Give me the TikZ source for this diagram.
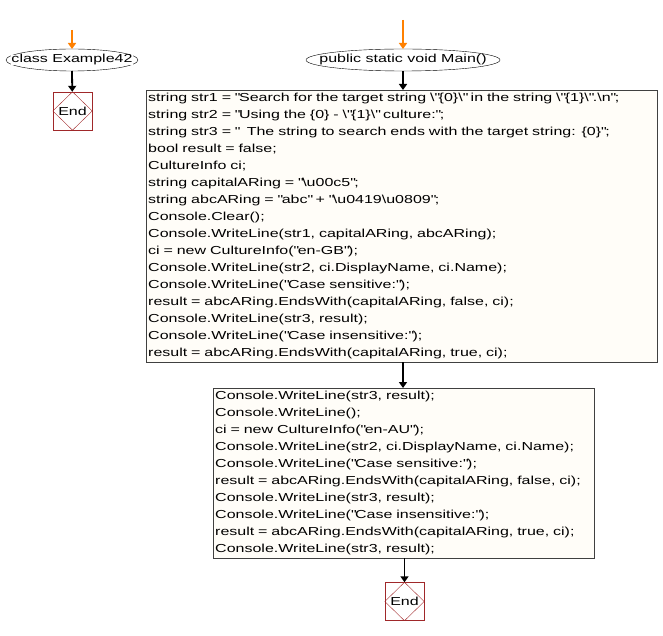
\documentclass[tikz,border=0pt]{standalone}
\usepackage{fontspec}
\setmainfont{Liberation Sans}[FakeStretch=1.38]
\usetikzlibrary{arrows.meta,shapes.geometric}
\definecolor{boxfill}{HTML}{FFFDF8}
\definecolor{endred}{HTML}{A0282A}
\newcommand{\qq}{\textquotedbl{}}
\newcommand{\bs}{\textbackslash{}}
\tikzset{x=1pt,y=-1pt,
 ell/.style={inner sep=0pt,font=\fontsize{11.6}{14}\selectfont,
   append after command={\pgfextra{\draw (\tikzlastnode.center) ellipse (#1 and 11);}}},
 code/.style={draw=black!75,fill=boxfill,anchor=north west,inner xsep=2pt,inner ysep=3pt,align=left,font=\fontsize{11.6}{17}\selectfont,text width=#1},
 endn/.style={draw=endred,minimum width=39pt,minimum height=38pt,inner sep=0pt,font=\fontsize{11.6}{14}\selectfont,
   append after command={\pgfextra{\draw[endred,thin] (\tikzlastnode.north) -- (\tikzlastnode.east) -- (\tikzlastnode.south) -- (\tikzlastnode.west) -- cycle;}}},
 oarr/.style={draw=orange,line width=1.6pt,-{Triangle[length=6pt,width=8pt]}},
 barr/.style={draw=black,line width=1.8pt,-{Triangle[length=6pt,width=8pt]}}}
\begin{document}
\begin{tikzpicture}
\useasboundingbox (0,0) rectangle (663,636);
\coordinate (s1) at (72,30);
\coordinate (s2) at (403,20);
\node[ell=66,fill=white] (c) at (72,60) {class Example42};
\node[endn] (e1) at (72.5,111) {End};
\node[ell=97] (m) at (403,60) {public static void Main()};
\node[code=507pt] (b1) at (146,90) {string str1 = \qq Search for the target string \bs\qq\{0\}\bs\qq{} in the string \bs\qq\{1\}\bs\qq.\bs n\qq;\\
string str2 = \qq Using the \{0\} - \bs\qq\{1\}\bs\qq{} culture:\qq;\\
string str3 = \qq~ The string to search ends with the target string: \{0\}\qq;\\
bool result = false;\\
CultureInfo ci;\\
string capitalARing = \qq\bs u00c5\qq;\\
string abcARing = \qq abc\qq{} + \qq\bs u0419\bs u0809\qq;\\
Console.Clear();\\
Console.WriteLine(str1, capitalARing, abcARing);\\
ci = new CultureInfo(\qq en-GB\qq);\\
Console.WriteLine(str2, ci.DisplayName, ci.Name);\\
Console.WriteLine(\qq Case sensitive:\qq);\\
result = abcARing.EndsWith(capitalARing, false, ci);\\
Console.WriteLine(str3, result);\\
Console.WriteLine(\qq Case insensitive:\qq);\\
result = abcARing.EndsWith(capitalARing, true, ci);};
\node[code=377pt] (b2) at (213,388) {Console.WriteLine(str3, result);\\
Console.WriteLine();\\
ci = new CultureInfo(\qq en-AU\qq);\\
Console.WriteLine(str2, ci.DisplayName, ci.Name);\\
Console.WriteLine(\qq Case sensitive:\qq);\\
result = abcARing.EndsWith(capitalARing, false, ci);\\
Console.WriteLine(str3, result);\\
Console.WriteLine(\qq Case insensitive:\qq);\\
result = abcARing.EndsWith(capitalARing, true, ci);\\
Console.WriteLine(str3, result);};
\node[endn] (e2) at (404.5,601.5) {End};
\coordinate (cb) at (72,71);
\coordinate (ct) at (72,49);
\coordinate (mb) at (403,71);
\coordinate (mt) at (403,49);
\draw[oarr] (s1) -- (ct);
\draw[oarr] (s2) -- (mt);
\draw[barr] (cb) -- (e1);
\draw[barr] (mb) -- (mb |- b1.north);
\draw[barr] (b1.south -| m) -- (m |- b2.north);
\draw[barr] (b2.south -| e2) -- (e2);
\end{tikzpicture}
\end{document}
